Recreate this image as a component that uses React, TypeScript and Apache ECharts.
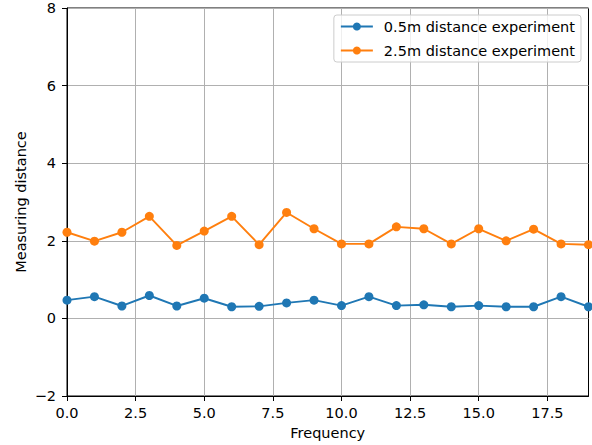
import React, { useEffect, useRef } from "react";
import * as echarts from "echarts";

const frequency = [0, 1, 2, 3, 4, 5, 6, 7, 8, 9, 10, 11, 12, 13, 14, 15, 16, 17, 18, 19];
const exp05 = [0.47, 0.56, 0.32, 0.59, 0.32, 0.52, 0.3, 0.31, 0.4, 0.47, 0.33, 0.56, 0.33, 0.35, 0.3, 0.33, 0.3, 0.3, 0.56, 0.3];
const exp25 = [2.22, 1.99, 2.22, 2.63, 1.88, 2.25, 2.63, 1.9, 2.73, 2.31, 1.92, 1.92, 2.36, 2.31, 1.92, 2.31, 2.0, 2.3, 1.92, 1.9];
const xTicks = [0, 2.5, 5, 7.5, 10, 12.5, 15, 17.5];
const seriesNames = ["0.5m distance experiment", "2.5m distance experiment"];
const colors = ["#1f77b4", "#ff7f0e"];

const FONT = "DejaVu Sans";
const FS = 14.5;

export default function App() {
  const ref = useRef<HTMLDivElement>(null);
  useEffect(() => {
    if (!ref.current) return;
    const chart = echarts.init(ref.current, null, { renderer: "svg" });
    const mk = (name: string, vals: number[], color: string) => ({
      name,
      type: "line",
      data: frequency.map((f, i) => [f, vals[i]]),
      symbol: "circle",
      symbolSize: 9,
      lineStyle: { color, width: 1.9 },
      itemStyle: { color },
      z: 3,
    });
    chart.setOption({
      animation: false,
      backgroundColor: "#ffffff",
      textStyle: { fontFamily: FONT },
      grid: {
        left: 67,
        right: 3.5,
        top: 8,
        bottom: 48,
        show: true,
        borderColor: "#000",
        borderWidth: 1,
        backgroundColor: "transparent",
      },
      legend: {
        orient: "vertical",
        right: 11,
        top: 15,
        itemWidth: 32,
        itemHeight: 10,
        itemGap: 9,
        padding: [4, 6, 4, 6],
        backgroundColor: "rgba(255,255,255,0.8)",
        borderColor: "#cccccc",
        borderWidth: 1,
        borderRadius: 3,
        textStyle: { fontFamily: FONT, fontSize: FS, color: "#000", padding: [0, 0, 0, 6] },
        data: seriesNames,
      },
      xAxis: {
        type: "value",
        min: 0,
        max: 19,
        interval: 2.5,
        name: "Frequency",
        nameLocation: "middle",
        nameGap: 29,
        nameMoveOverlap: false,
        nameTextStyle: { fontFamily: FONT, fontSize: FS, color: "#000" },
        axisLine: { show: true, onZero: false, lineStyle: { color: "#000", width: 1 } },
        axisTick: { show: true, length: 5, customValues: xTicks, lineStyle: { color: "#000" } },
        axisLabel: {
          customValues: xTicks,
          margin: 9,
          fontFamily: FONT,
          fontSize: FS,
          color: "#000",
          formatter: (v: number) => v.toFixed(1),
        },
        splitLine: { show: true, lineStyle: { color: "#b0b0b0", width: 1 } },
      },
      yAxis: {
        type: "value",
        min: -2,
        max: 8,
        interval: 2,
        name: "Measuring distance",
        nameLocation: "middle",
        nameGap: 39,
        nameMoveOverlap: false,
        nameTextStyle: { fontFamily: FONT, fontSize: FS, color: "#000" },
        axisLine: { show: true, onZero: false, lineStyle: { color: "#000", width: 1 } },
        axisTick: { show: true, length: 5, lineStyle: { color: "#000" } },
        axisLabel: {
          margin: 11,
          fontFamily: FONT,
          fontSize: FS,
          color: "#000",
          formatter: (v: number) => String(v).replace("-", "\u2212"),
        },
        splitLine: { show: true, lineStyle: { color: "#b0b0b0", width: 1 } },
      },
      series: [mk(seriesNames[0], exp05, colors[0]), mk(seriesNames[1], exp25, colors[1])],
    });
    return () => chart.dispose();
  }, []);
  return <div ref={ref} style={{ width: 592, height: 445, position: "absolute", left: 0, top: 0 }} />;
}
